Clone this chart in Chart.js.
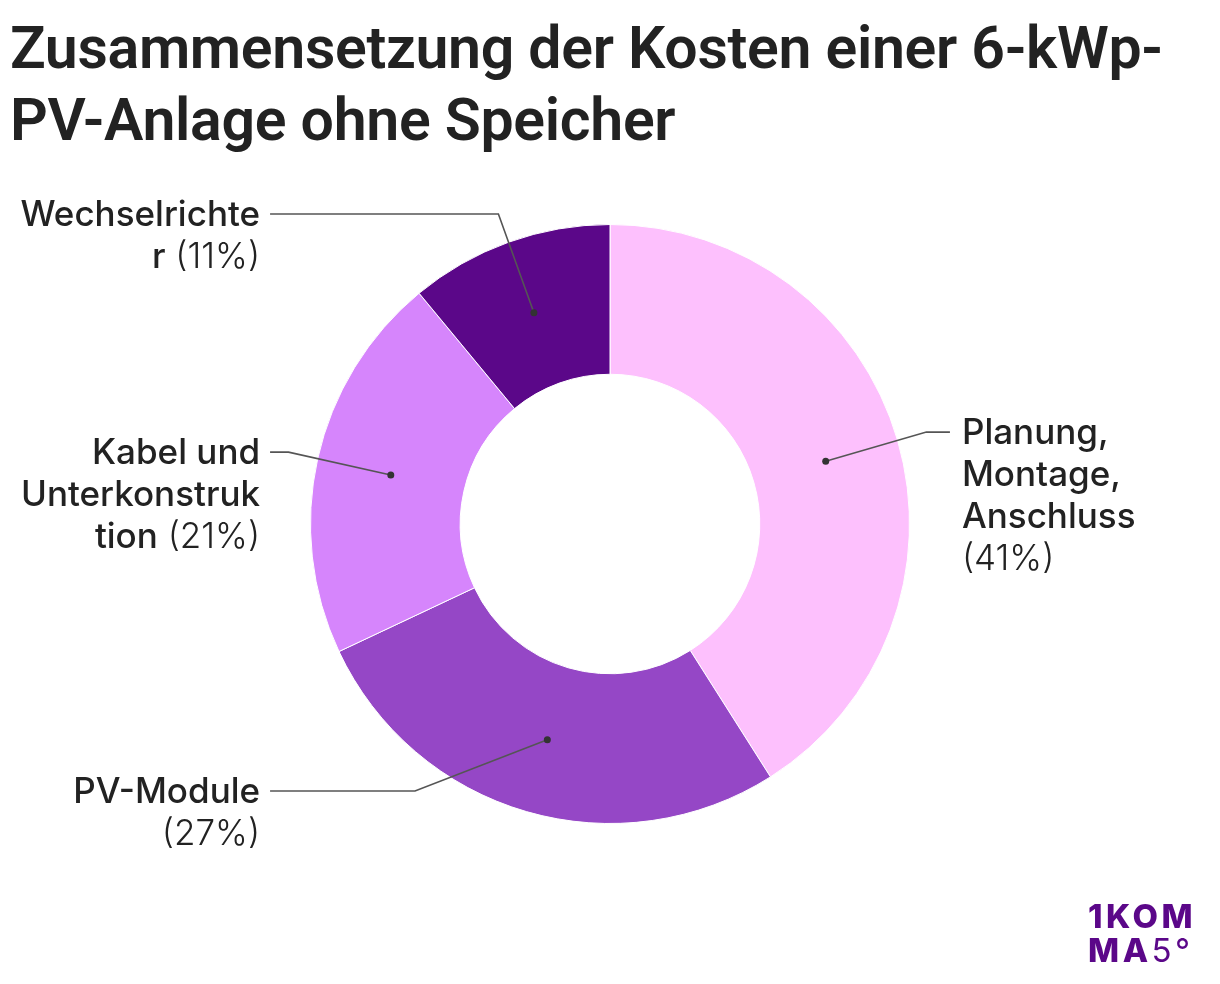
<!DOCTYPE html>
<html>
<head>
<meta charset="utf-8">
<script src="https://cdn.jsdelivr.net/npm/chart.js@4"></script>
<style>
  html, body { margin: 0; padding: 0; background: #fff; }
  body { width: 1220px; height: 984px; position: relative; overflow: hidden; font-family: Inter, "Noto Sans", sans-serif; }
  #title { position: absolute; left: 10px; top: 12px; margin: 0; font-family: Roboto, Inter, sans-serif; font-weight: 600; font-size: 59px; line-height: 72px; color: #222; letter-spacing: -0.3px; white-space: nowrap; }
  #wrap { position: absolute; left: 0; top: 0; width: 1220px; height: 984px; }
  #logo { position: absolute; left: 1088px; top: 899px; color: #5b0789; font-family: Inter, sans-serif; font-weight: 800; font-size: 33px; line-height: 34px; text-align: left; letter-spacing: 3.5px; white-space: nowrap; }
  #logo .l { font-weight: 400; }
</style>
</head>
<body>
<h1 id="title">Zusammensetzung der Kosten einer 6-kWp-<br>PV-Anlage ohne Speicher</h1>
<div id="wrap"><canvas id="c"></canvas></div>
<div id="logo">1KOM<br>MA<span class="l">5°</span></div>
<script>
const categories = ["Planung, Montage, Anschluss", "PV-Module", "Kabel und Unterkonstruktion", "Wechselrichter"];
const values = [41, 27, 21, 11];
const colors = ["#fdc0fd", "#9547c6", "#d685fc", "#5b0789"];

// layout tweaks for label placement (pixels relative to chart centre), not data
const labelOverrides = { 1: { labelDy: 267, elbowDx: -195 } };

const NAME_FONT = '500 35px Inter, "Noto Sans", sans-serif';
const PCT_FONT = '300 35px Inter, "Noto Sans", sans-serif';
const LINE_H = 42;
const MAX_W = 246;

function wrapLabel(ctx, name, pct) {
  const words = name.split(' ');
  const lines = [];
  let cur = [];
  const segW = segs => segs.reduce((s, g) => { ctx.font = g.font; return s + ctx.measureText(g.text).width; }, 0);
  function pushWord(word, font) {
    const trial = cur.length ? cur.concat([{text: ' ' + word, font}]) : [{text: word, font}];
    if (segW(trial) <= MAX_W) { cur = trial; return; }
    if (cur.length) { lines.push(cur); cur = []; }
    ctx.font = font;
    if (ctx.measureText(word).width <= MAX_W) { cur = [{text: word, font}]; return; }
    let piece = '';
    for (const ch of word) {
      if (ctx.measureText(piece + ch).width > MAX_W && piece) { lines.push([{text: piece, font}]); piece = ch; }
      else piece += ch;
    }
    cur = [{text: piece, font}];
  }
  words.forEach(w => pushWord(w, NAME_FONT));
  pushWord('(' + pct + '%)', PCT_FONT);
  if (cur.length) lines.push(cur);
  return lines;
}

const leaderPlugin = {
  id: 'leaders',
  afterDatasetsDraw(chart) {
    const ctx = chart.ctx;
    const meta = chart.getDatasetMeta(0);
    meta.data.forEach((arc, i) => {
      const p = arc.getProps(['x', 'y', 'startAngle', 'endAngle', 'innerRadius', 'outerRadius'], true);
      const mid = (p.startAngle + p.endAngle) / 2;
      const c = Math.cos(mid), s = Math.sin(mid);
      const rDot = (p.innerRadius + p.outerRadius) / 2;
      const dot = { x: p.x + c * rDot, y: p.y + s * rDot };
      const rEl = p.outerRadius * 1.1;
      let elbow = { x: p.x + c * rEl, y: p.y + s * rEl };
      const ov = labelOverrides[i];
      if (ov) { elbow = { x: p.x + ov.elbowDx, y: p.y + ov.labelDy }; }
      const right = c >= 0;
      const dir = right ? 1 : -1;
      const lineEnd = p.x + dir * p.outerRadius * 1.135;
      const textX = p.x + dir * (p.outerRadius * 1.135 + (right ? 12 : 10));

      ctx.save();
      ctx.strokeStyle = '#555';
      ctx.lineWidth = 1.6;
      ctx.beginPath();
      ctx.moveTo(dot.x, dot.y);
      ctx.lineTo(elbow.x, elbow.y);
      ctx.lineTo(lineEnd, elbow.y);
      ctx.stroke();
      ctx.fillStyle = '#333';
      ctx.beginPath();
      ctx.arc(dot.x, dot.y, 3.5, 0, Math.PI * 2);
      ctx.fill();

      const lines = wrapLabel(ctx, categories[i], values[i]);
      ctx.fillStyle = '#222';
      ctx.textBaseline = 'middle';
      ctx.textAlign = 'left';
      lines.forEach((segs, li) => {
        const y = elbow.y + li * LINE_H + 1;
        let total = 0;
        segs.forEach(g => { ctx.font = g.font; g.w = ctx.measureText(g.text).width; total += g.w; });
        let x = right ? textX : textX - total;
        segs.forEach(g => { ctx.font = g.font; ctx.fillText(g.text, x, y); x += g.w; });
      });
      ctx.restore();
    });
  }
};

function draw() {
  new Chart(document.getElementById('c'), {
    type: 'doughnut',
    data: {
      labels: categories,
      datasets: [{
        data: values,
        backgroundColor: colors,
        borderColor: '#ffffff',
        borderWidth: 1,
        hoverOffset: 0
      }]
    },
    options: {
      responsive: false,
      maintainAspectRatio: false,
      animation: false,
      events: [],
      cutout: '50%',
      layout: { padding: { left: 310, right: 310, top: 223, bottom: 159 } },
      plugins: { legend: { display: false }, tooltip: { enabled: false } }
    },
    plugins: [leaderPlugin]
  });
}
const cv = document.getElementById('c');
cv.width = 1220; cv.height = 984;
cv.style.width = '1220px'; cv.style.height = '984px';
if (document.fonts && document.fonts.load) {
  Promise.all([document.fonts.load(NAME_FONT), document.fonts.load(PCT_FONT), document.fonts.load('600 59px Roboto')]).then(draw, draw);
} else draw();
</script>
</body>
</html>
